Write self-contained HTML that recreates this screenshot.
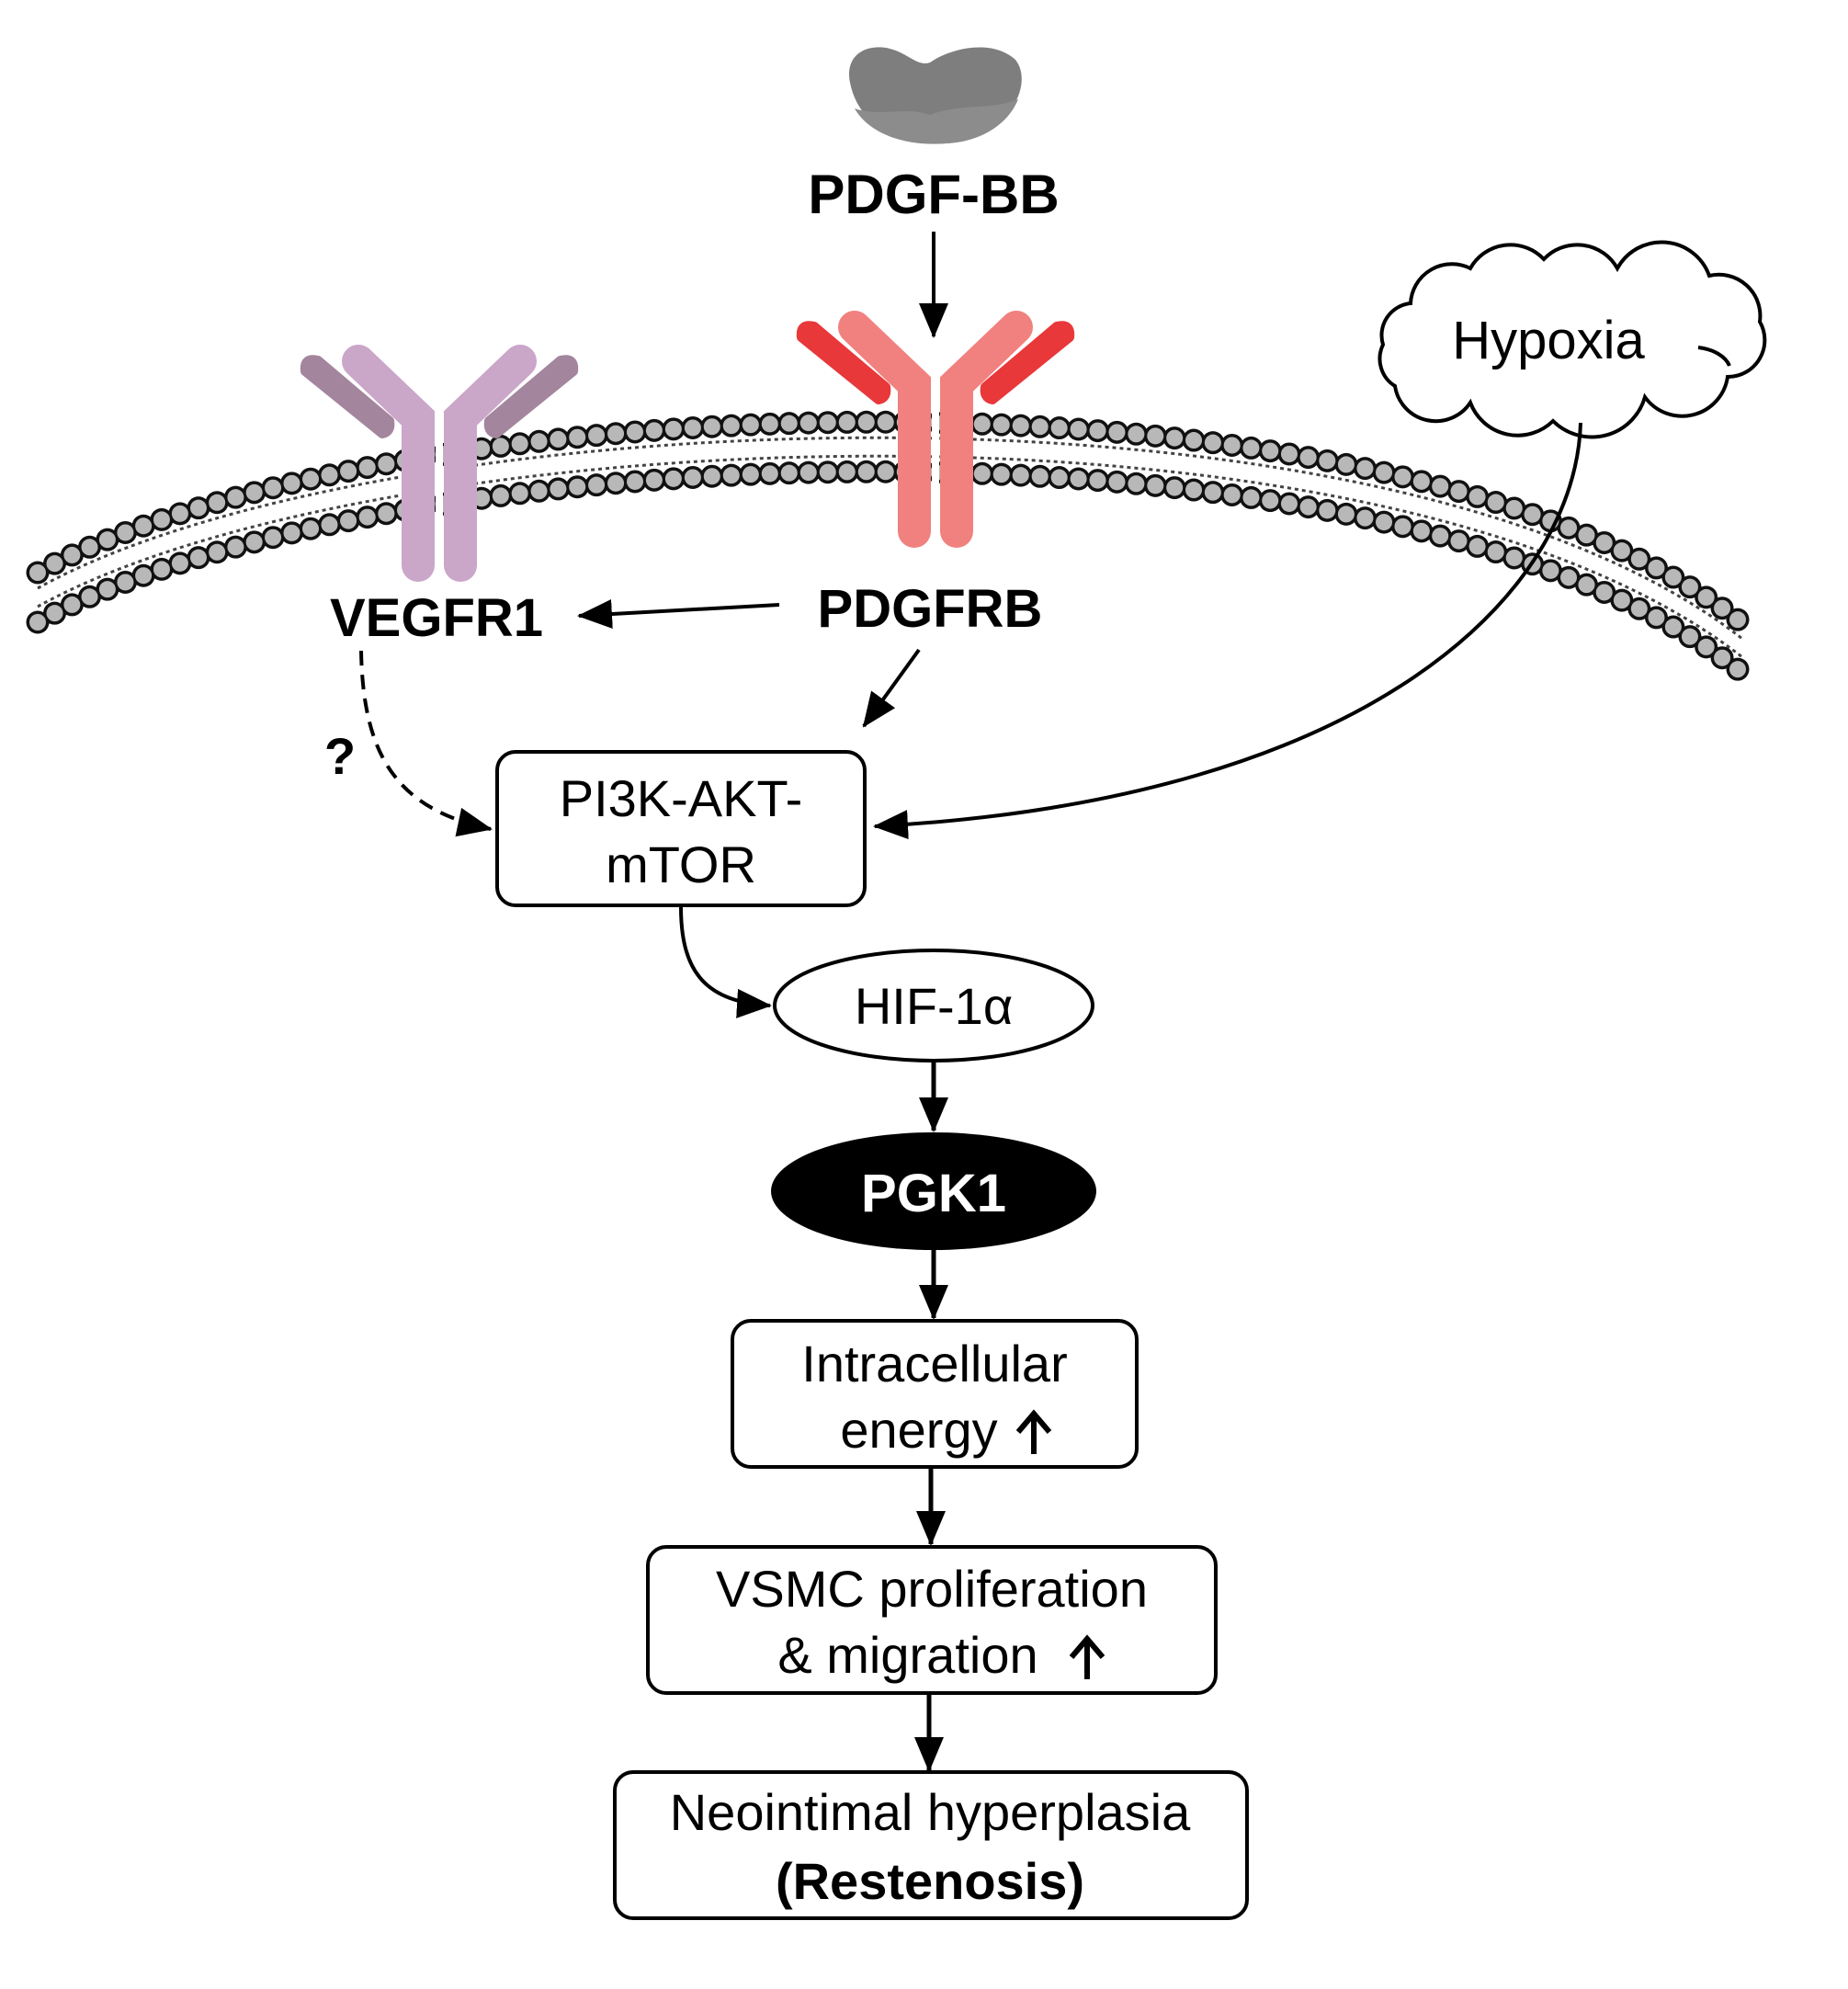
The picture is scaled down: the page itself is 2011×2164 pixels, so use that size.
<!DOCTYPE html>
<html><head><meta charset="utf-8"><style>
html,body{margin:0;padding:0;background:#fff;}
svg{display:block;}
text{font-family:"Liberation Sans",Arial,sans-serif;}
</style></head><body>
<svg width="2011" height="2164" viewBox="0 0 2011 2164" xmlns="http://www.w3.org/2000/svg">
<defs>
<marker id="ah" markerUnits="userSpaceOnUse" markerWidth="40" markerHeight="40" viewBox="0 0 40 40" refX="36" refY="20" orient="auto">
<path d="M0,4 L38,20 L0,36 Z" fill="#000"/>
</marker>
<path id="mem" d="M41,650 C400,450 1500,395 1896,705"/>
</defs>

<!-- membrane -->
<g fill="none">
 <use href="#mem" transform="translate(0,10)" stroke="#444" stroke-width="3" stroke-dasharray="4 4"/>
 <use href="#mem" transform="translate(0,-10)" stroke="#444" stroke-width="3" stroke-dasharray="4 4"/>
 <use href="#mem" transform="translate(0,-27)" stroke="#111" stroke-width="25" stroke-dasharray="0 21" stroke-linecap="round"/>
 <use href="#mem" transform="translate(0,-27)" stroke="#b8b8b8" stroke-width="18" stroke-dasharray="0 21" stroke-linecap="round"/>
 <use href="#mem" transform="translate(0,27)" stroke="#111" stroke-width="25" stroke-dasharray="0 21" stroke-linecap="round"/>
 <use href="#mem" transform="translate(0,27)" stroke="#b8b8b8" stroke-width="18" stroke-dasharray="0 21" stroke-linecap="round"/>
</g>

<!-- VEGFR1 receptor -->
<g transform="translate(478,0)">
 <path d="M-146,404 Q-148,388 -132,392 L-54,458 Q-52,470 -62,472 Z" fill="#a3859d" stroke="#a3859d" stroke-width="10" stroke-linejoin="round"/>
 <path d="M146,404 Q148,388 132,392 L54,458 Q52,470 62,472 Z" fill="#a3859d" stroke="#a3859d" stroke-width="10" stroke-linejoin="round"/>
 <g stroke="#caa6c9" stroke-width="36" stroke-linecap="round" fill="none">
  <path d="M-23,615 L-23,455 L-88,393"/>
  <path d="M23,615 L23,455 L88,393"/>
 </g>
 <line x1="0" y1="450" x2="0" y2="630" stroke="#fff" stroke-width="8"/>
</g>

<!-- PDGFRB receptor -->
<g transform="translate(1018,-37)">
 <path d="M-146,404 Q-148,388 -132,392 L-54,458 Q-52,470 -62,472 Z" fill="#e8383a" stroke="#e8383a" stroke-width="10" stroke-linejoin="round"/>
 <path d="M146,404 Q148,388 132,392 L54,458 Q52,470 62,472 Z" fill="#e8383a" stroke="#e8383a" stroke-width="10" stroke-linejoin="round"/>
 <g stroke="#f0817f" stroke-width="36" stroke-linecap="round" fill="none">
  <path d="M-23,615 L-23,455 L-88,393"/>
  <path d="M23,615 L23,455 L88,393"/>
 </g>
 <line x1="0" y1="450" x2="0" y2="630" stroke="#fff" stroke-width="8"/>
</g>

<!-- PDGF-BB blob -->
<path d="M925,90 C918,55 950,45 975,55 C992,62 1000,72 1012,68 C1035,52 1080,42 1105,65 C1125,90 1100,145 1040,155 C985,162 935,140 925,90 Z" fill="#7e7e7e"/>
<path d="M930,118 C960,128 985,115 1012,125 C1045,112 1080,120 1108,108 C1095,140 1060,155 1030,156 C985,160 945,145 930,118 Z" fill="#8c8c8c"/>
<text x="1016" y="232" font-size="60" font-weight="bold" text-anchor="middle">PDGF-BB</text>
<line x1="1016" y1="252" x2="1016" y2="366" stroke="#000" stroke-width="4" marker-end="url(#ah)"/>

<!-- Hypoxia cloud -->
<path d="M1535,330 A45,45 0 0 1 1600,292 A50,50 0 0 1 1680,282 A50,50 0 0 1 1760,292 A55,55 0 0 1 1860,300 A45,45 0 0 1 1915,350 A40,40 0 0 1 1880,410 A50,50 0 0 1 1790,432 A60,60 0 0 1 1690,458 A55,55 0 0 1 1600,438 A45,45 0 0 1 1518,420 A35,35 0 0 1 1505,375 A35,35 0 0 1 1535,330 Z" fill="#fff" stroke="#000" stroke-width="4"/>
<text x="1685" y="390" font-size="58" text-anchor="middle">Hypoxia</text>
<path d="M1848,378 C1865,380 1878,388 1882,398" fill="none" stroke="#000" stroke-width="4"/>

<!-- Hypoxia to PI3K -->
<path d="M1720,460 C1715,640 1500,870 952,899" fill="none" stroke="#000" stroke-width="4" marker-end="url(#ah)"/>

<!-- labels -->
<text x="475" y="692" font-size="58" font-weight="bold" text-anchor="middle">VEGFR1</text>
<text x="1012" y="682" font-size="58" font-weight="bold" text-anchor="middle">PDGFRB</text>
<line x1="848" y1="658" x2="630" y2="670" stroke="#000" stroke-width="4" marker-end="url(#ah)"/>
<line x1="1000" y1="707" x2="940" y2="790" stroke="#000" stroke-width="4" marker-end="url(#ah)"/>
<path d="M393,708 C395,820 430,880 534,902" fill="none" stroke="#000" stroke-width="4" stroke-dasharray="16 10" marker-end="url(#ah)"/>
<text x="370" y="842" font-size="56" font-weight="bold" text-anchor="middle">?</text>

<!-- PI3K box -->
<rect x="541" y="818" width="400" height="167" rx="20" fill="#fff" stroke="#000" stroke-width="4"/>
<text x="741" y="888" font-size="56" text-anchor="middle">PI3K-AKT-</text>
<text x="741" y="960" font-size="56" text-anchor="middle">mTOR</text>

<path d="M741,987 C741,1060 770,1090 838,1094" fill="none" stroke="#000" stroke-width="4" marker-end="url(#ah)"/>

<!-- HIF -->
<ellipse cx="1016" cy="1094" rx="173" ry="60" fill="#fff" stroke="#000" stroke-width="4"/>
<text x="1016" y="1114" font-size="56" text-anchor="middle">HIF-1α</text>
<line x1="1016" y1="1156" x2="1016" y2="1230" stroke="#000" stroke-width="5" marker-end="url(#ah)"/>

<!-- PGK1 -->
<ellipse cx="1016" cy="1296" rx="177" ry="64" fill="#000"/>
<text x="1016" y="1318" font-size="58" font-weight="bold" fill="#fff" text-anchor="middle">PGK1</text>
<line x1="1016" y1="1360" x2="1016" y2="1434" stroke="#000" stroke-width="5" marker-end="url(#ah)"/>

<!-- Intracellular -->
<rect x="797" y="1437" width="440" height="159" rx="20" fill="#fff" stroke="#000" stroke-width="4"/>
<text x="1017" y="1503" font-size="56" text-anchor="middle">Intracellular</text>
<text x="1000" y="1575" font-size="56" text-anchor="middle">energy</text>
<path d="M1125,1582 L1125,1540 M1108,1558 L1125,1538 L1142,1558" fill="none" stroke="#000" stroke-width="6"/>
<line x1="1013" y1="1598" x2="1013" y2="1680" stroke="#000" stroke-width="5" marker-end="url(#ah)"/>

<!-- VSMC -->
<rect x="705" y="1683" width="618" height="159" rx="20" fill="#fff" stroke="#000" stroke-width="4"/>
<text x="1014" y="1748" font-size="56" text-anchor="middle">VSMC proliferation</text>
<text x="988" y="1820" font-size="56" text-anchor="middle">&amp; migration</text>
<path d="M1183,1827 L1183,1785 M1166,1803 L1183,1783 L1200,1803" fill="none" stroke="#000" stroke-width="6"/>
<line x1="1011" y1="1844" x2="1011" y2="1926" stroke="#000" stroke-width="5" marker-end="url(#ah)"/>

<!-- Neointimal -->
<rect x="669" y="1928" width="688" height="159" rx="20" fill="#fff" stroke="#000" stroke-width="4"/>
<text x="1012" y="1991" font-size="56" text-anchor="middle">Neointimal hyperplasia</text>
<text x="1012" y="2066" font-size="56" font-weight="bold" text-anchor="middle">(Restenosis)</text>
</svg>
</body></html>
